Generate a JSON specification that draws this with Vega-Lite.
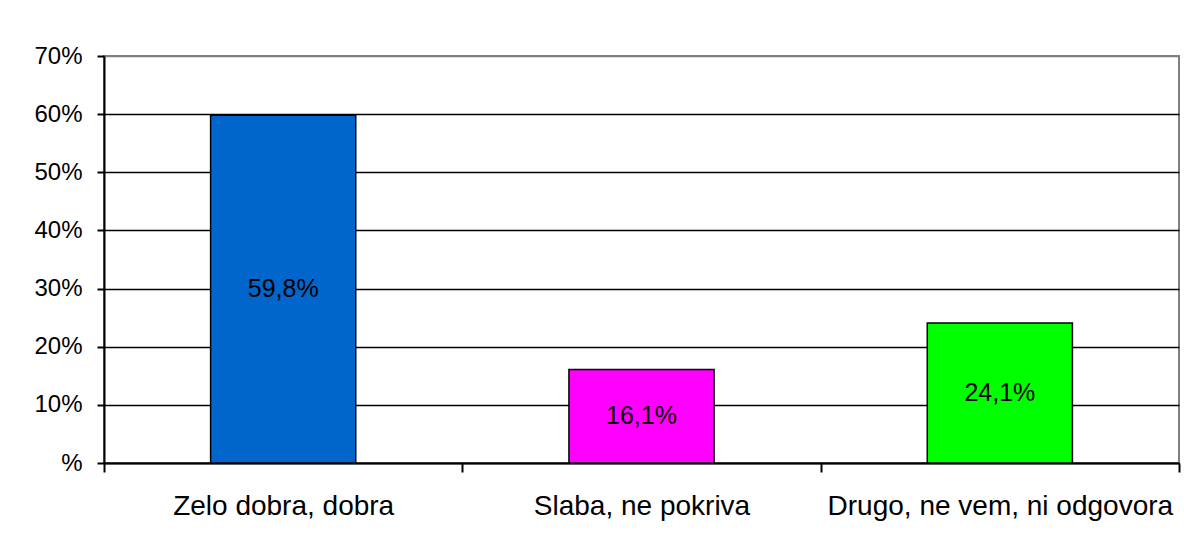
{
  "$schema": "https://vega.github.io/schema/vega-lite/v6.json",
  "autosize": {"type": "none"},
  "width": 1075,
  "height": 407,
  "padding": {"left": 104, "top": 56, "right": 5, "bottom": 79},
  "background": "white",
  "config": {
    "font": "Liberation Sans",
    "locale": {"number": {"decimal": ",", "thousands": ".", "grouping": [3], "currency": ["", " €"]}},
    "view": {"stroke": "#808080", "strokeWidth": 2}
  },
  "data": {
    "values": [
      {"category": "Zelo dobra, dobra", "value": 0.598},
      {"category": "Slaba, ne pokriva", "value": 0.161},
      {"category": "Drugo, ne vem, ni odgovora", "value": 0.241}
    ]
  },
  "transform": [{"calculate": "datum.value / 2", "as": "half"}],
  "encoding": {
    "x": {
      "field": "category",
      "type": "nominal",
      "sort": null,
      "scale": {"paddingInner": 0, "paddingOuter": 0},
      "axis": {
        "title": null,
        "labelAngle": 0,
        "labelFontSize": 28,
        "labelLimit": 0,
        "labelColor": "black",
        "labelPadding": 20,
        "tickBand": "extent",
        "tickSize": 9,
        "tickColor": "black",
        "tickWidth": 2,
        "domainColor": "black",
        "domainWidth": 2,
        "grid": false
      }
    }
  },
  "layer": [
    {
      "mark": {"type": "bar", "stroke": "black", "strokeWidth": 1.5, "width": {"band": 0.405}},
      "encoding": {
        "y": {
          "field": "value",
          "type": "quantitative",
          "scale": {"domain": [0, 0.7], "nice": false},
          "axis": {
            "title": null,
            "values": [0, 0.1, 0.2, 0.3, 0.4, 0.5, 0.6, 0.7],
            "format": ".0%",
            "labelExpr": "datum.value == 0 ? '%' : datum.label",
            "labelFontSize": 24,
            "labelColor": "black",
            "labelPadding": 15,
            "tickSize": 7,
            "tickColor": "black",
            "tickWidth": 2,
            "domainColor": "black",
            "domainWidth": 2,
            "grid": true,
            "gridColor": {"condition": {"test": "datum.value >= 0.7", "value": "#808080"}, "value": "black"},
            "gridWidth": 1.5,
            "gridOpacity": 1
          }
        },
        "color": {
          "field": "category",
          "type": "nominal",
          "sort": null,
          "scale": {"range": ["#0066CC", "#FF00FF", "#00FF00"]},
          "legend": null
        }
      }
    },
    {
      "mark": {"type": "text", "fontSize": 25, "color": "black", "baseline": "middle", "align": "center"},
      "encoding": {
        "y": {"field": "half", "type": "quantitative"},
        "text": {"field": "value", "type": "quantitative", "format": ".1%"}
      }
    }
  ]
}
